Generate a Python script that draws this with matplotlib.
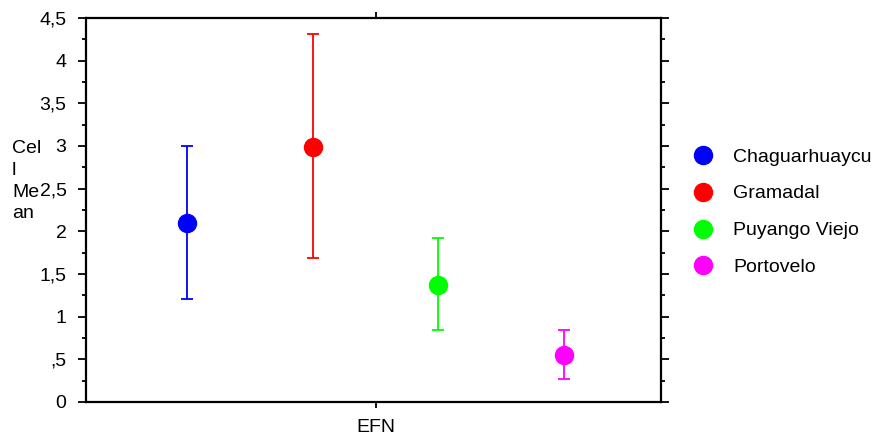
import matplotlib
matplotlib.use("Agg")
import matplotlib.pyplot as plt
from matplotlib.ticker import MultipleLocator, FixedLocator
from matplotlib.lines import Line2D

plt.rcParams['font.family'] = ['Liberation Sans', 'DejaVu Sans']

groups = ["Chaguarhuaycu", "Gramadal", "Puyango Viejo", "Portovelo"]
colors = ["#0000ff", "#ff0000", "#00ff00", "#ff00ff"]
means = [2.10, 2.99, 1.37, 0.55]
lower = [1.21, 1.69, 0.84, 0.27]
upper = [3.00, 4.31, 1.92, 0.84]
category = "EFN"
ytick_vals = [0, 0.5, 1, 1.5, 2, 2.5, 3, 3.5, 4, 4.5]
ytick_labels = ["0", ",5", "1", "1,5", "2", "2,5", "3", "3,5", "4", "4,5"]

FS = 14

fig = plt.figure(figsize=(8.77, 4.40), dpi=100)
ax = fig.add_axes([0.0981, 0.0864, 0.6556, 0.8727])

dodge = 0.219
n = len(groups)
xs = [(i - (n - 1) / 2) * dodge for i in range(n)]

for x, m, lo, hi, c, g in zip(xs, means, lower, upper, colors, groups):
    ax.errorbar([x], [m], yerr=[[m - lo], [hi - m]], fmt='none', ecolor=c,
                elinewidth=1.3, capsize=4, capthick=1.3)
    ax.plot([x], [m], 'o', color=c, markersize=13, label=g, zorder=3)

ax.set_xlim(-0.5035, 0.4965)
ax.set_ylim(0, 4.5)

ax.yaxis.set_major_locator(FixedLocator(ytick_vals))
ax.set_yticklabels(ytick_labels, fontsize=FS)
ax.yaxis.set_minor_locator(MultipleLocator(0.25))
ax.tick_params(axis='y', which='both', direction='out', left=True, right=True,
               width=1.3, color='black')
ax.tick_params(axis='y', which='major', length=6, pad=8)
ax.tick_params(axis='y', which='minor', length=3)

ax.set_xticks([0])
ax.set_xticklabels([category], fontsize=FS)
ax.tick_params(axis='x', which='both', direction='out', bottom=True, top=True,
               length=4.5, width=1.3, pad=8)

for s in ax.spines.values():
    s.set_linewidth(1.6)

for txt, yy in zip(["Cel", "l", "Me", "an"], [153, 175, 197, 218]):
    fig.text(12 / 877, 1 - yy / 440, txt, fontsize=FS, ha='left', va='baseline')

handles = [Line2D([], [], marker='o', linestyle='none', color=c, markersize=13)
           for c in colors]
fig.legend(handles, groups, loc='upper left', bbox_to_anchor=(0.7905, 0.6636),
           frameon=False, fontsize=FS, handletextpad=1.05, labelspacing=0.99,
           handlelength=1.0, borderpad=0, borderaxespad=0)

fig.savefig("out.png", dpi=100)
